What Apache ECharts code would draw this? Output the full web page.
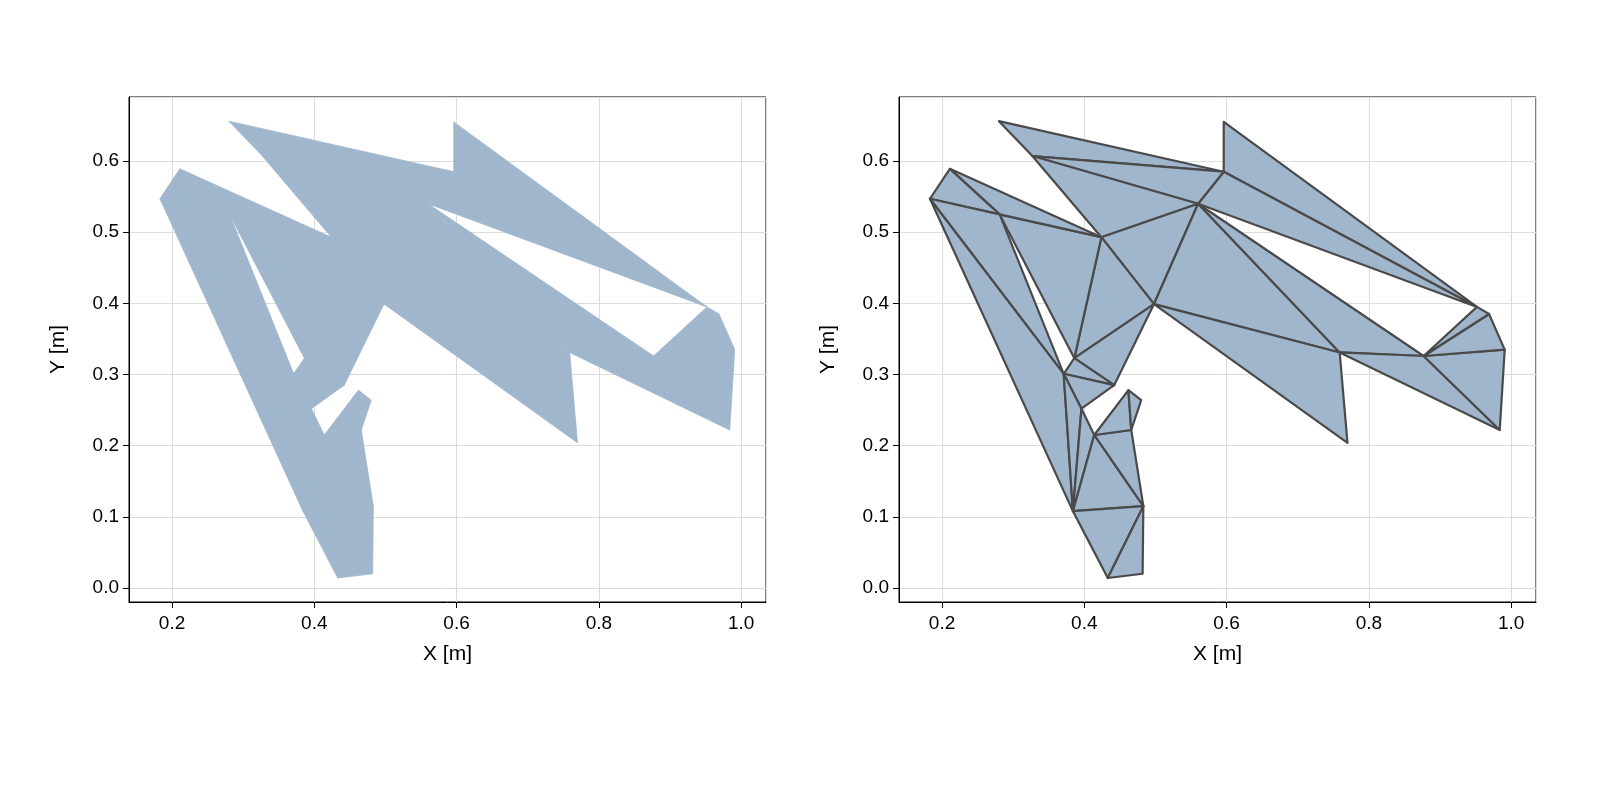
<!DOCTYPE html>
<html>
<head>
<meta charset="utf-8">
<script src="https://cdn.jsdelivr.net/npm/echarts@6/dist/echarts.min.js"></script>
<style>html,body{margin:0;background:#fff}#main{width:1600px;height:800px}</style>
</head>
<body>
<div id="main"></div>
<script>
// vertices of the polygon
const vx = [0.280, 0.327, 0.596, 0.596, 0.952, 0.969, 0.991, 0.984, 0.877, 0.759, 0.770,
  0.498, 0.560, 0.424, 0.281, 0.211, 0.183, 0.384, 0.433, 0.482, 0.483, 0.466, 0.480,
  0.462, 0.414, 0.396, 0.371, 0.386, 0.442]
const vy = [0.656, 0.607, 0.585, 0.655, 0.395, 0.385, 0.335, 0.222, 0.326, 0.331, 0.204,
  0.399, 0.540, 0.493, 0.525, 0.589, 0.547, 0.108, 0.014, 0.020, 0.115, 0.222, 0.264,
  0.278, 0.215, 0.252, 0.301, 0.323, 0.285]
const names = 'A B C D E F G H I J K L M N O P Q R S T U V W X Y Z a b c'.split(' ')
const triangles = ['ABC', 'DCE', 'CME', 'BCM', 'BMN', 'NML', 'MLJ', 'MJI', 'LJK', 'JIH', 'IGH',
  'IFG', 'IEF', 'NLb', 'Lbc', 'ONb', 'PON', 'QPO', 'QOa', 'QaR', 'abc', 'aZc', 'aZR',
  'ZYR', 'YRU', 'RSU', 'STU', 'YVU', 'YXV', 'XWV']

const data = triangles.map(t => {
  const out = []
  for (const ch of t) {
    const i = names.indexOf(ch)
    out.push(vx[i], vy[i])
  }
  return out
})

const fill = '#a0b6cd'
function renderer(stroke, width) {
  return function (params, api) {
    const pts = []
    for (let k = 0; k < 3; k++) pts.push(api.coord([api.value(2 * k), api.value(2 * k + 1)]))
    return {
      type: 'polygon',
      shape: { points: pts },
      style: { fill: fill, stroke: stroke, lineWidth: width, lineJoin: 'round' },
    }
  }
}

const font = 'Liberation Sans'
function xAxis(i) {
  return {
    gridIndex: i, type: 'value', min: 0.1395, max: 1.035, splitNumber: 4,
    name: 'X [m]', nameLocation: 'middle', nameGap: 42,
    nameTextStyle: { fontSize: 21, color: '#000', fontFamily: font },
    axisLine: { onZero: false, lineStyle: { color: '#000', width: 1 } },
    axisTick: { show: true, length: 6, lineStyle: { color: '#000' } },
    axisLabel: { fontSize: 19, color: '#000', fontFamily: font, margin: 12,
      showMinLabel: false, showMaxLabel: false, formatter: v => v.toFixed(1) },
    splitLine: { show: true, lineStyle: { color: '#dcdcdc', width: 1 } },
  }
}
function yAxis(i) {
  return {
    gridIndex: i, type: 'value', min: -0.0197, max: 0.690, splitNumber: 7,
    name: 'Y [m]', nameLocation: 'middle', nameGap: 60,
    nameTextStyle: { fontSize: 21, color: '#000', fontFamily: font },
    axisLine: { onZero: false, lineStyle: { color: '#000', width: 1 } },
    axisTick: { show: true, length: 6, lineStyle: { color: '#000' } },
    axisLabel: { fontSize: 19, color: '#000', fontFamily: font, margin: 10,
      showMinLabel: false, showMaxLabel: false, formatter: v => v.toFixed(1) },
    splitLine: { show: true, lineStyle: { color: '#dcdcdc', width: 1 } },
  }
}

const chart = echarts.init(document.getElementById('main'))
chart.setOption({
  animation: false,
  grid: [
    { left: 129, top: 97, width: 637, height: 505, show: true, borderColor: '#000', borderWidth: 1 },
    { left: 899, top: 97, width: 637, height: 505, show: true, borderColor: '#000', borderWidth: 1 },
  ],
  xAxis: [xAxis(0), xAxis(1)],
  yAxis: [yAxis(0), yAxis(1)],
  series: [
    { type: 'custom', xAxisIndex: 0, yAxisIndex: 0, renderItem: renderer(fill, 0.8), data: data },
    { type: 'custom', xAxisIndex: 1, yAxisIndex: 1, renderItem: renderer('#4a4a4a', 2.2), data: data },
  ],
})
</script>
</body>
</html>
